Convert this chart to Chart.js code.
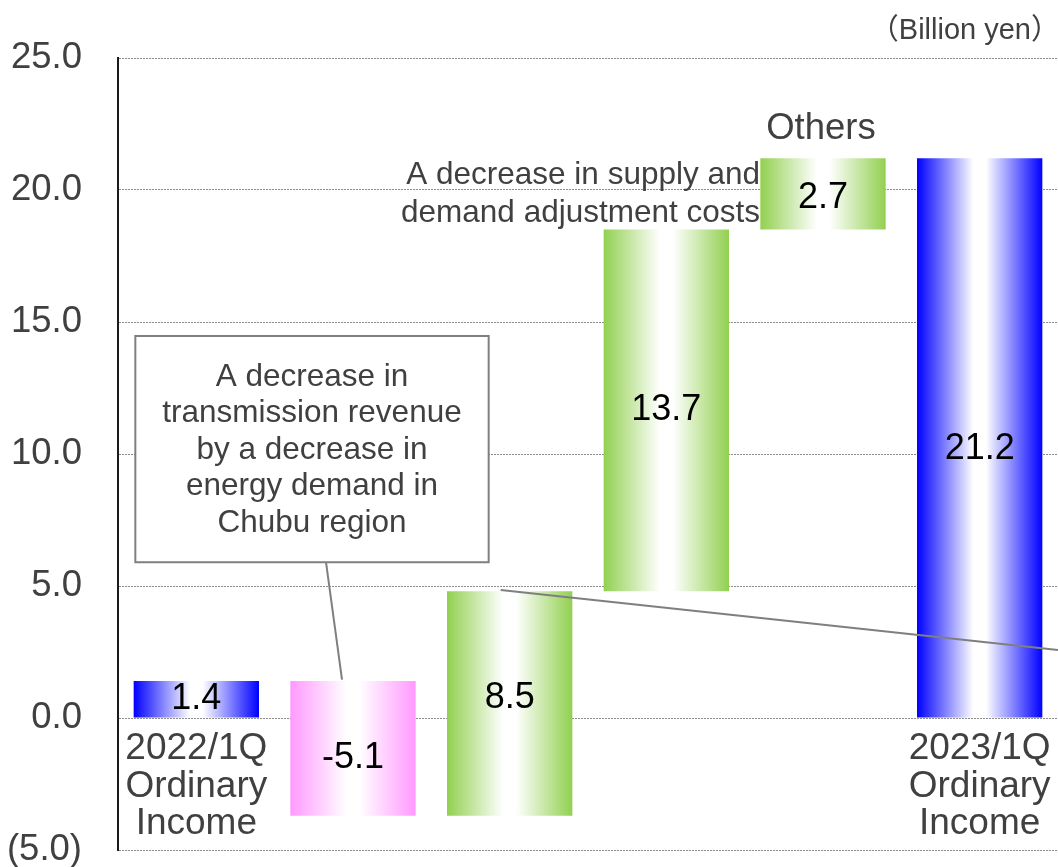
<!DOCTYPE html>
<html>
<head>
<meta charset="utf-8">
<script src="https://cdn.jsdelivr.net/npm/chart.js@4/dist/chart.umd.min.js"></script>
<style>
  html, body { margin: 0; padding: 0; background: #fff; }
  #wrap { width: 1058px; height: 867px; position: relative; }
</style>
</head>
<body>
<div id="wrap"><canvas id="chart"></canvas></div>
<script>
const categories = [
  ["2022/1Q", "Ordinary", "Income"],
  [], [], [], [],
  ["2023/1Q", "Ordinary", "Income"],
];
const changes = [1.4, -5.1, 8.5, 13.7, 2.7, 21.2];
const isTotal = [true, false, false, false, false, true];
const barColours = ["#0000ff", "#ff99ff", "#92d050", "#92d050", "#92d050", "#0000ff"];
const yTicks = [-5, 0, 5, 10, 15, 20, 25];

const FONT = '"Liberation Sans", Arial, sans-serif';
const TEXT = "#404040";

// waterfall: floating bars [start, end]
const floating = [];
let running = 0;
changes.forEach((v, i) => {
  if (isTotal[i]) {
    floating.push([0, v]);
    running = v;
  } else {
    floating.push([running, running + v]);
    running += v;
  }
});

// small nudges so the value text sits where the original put it
const labelNudge = [0, 10, -5, 0, 4, 11];

function barGradient(ctx) {
  const chart = ctx.chart;
  const i = ctx.dataIndex;
  const colour = barColours[i];
  if (!chart.chartArea || !chart.scales.x) return colour;
  const x = chart.scales.x;
  const cx = x.getPixelForValue(i);
  const w = (x.width / categories.length) * 0.8;
  const g = chart.ctx.createLinearGradient(cx - w / 2, 0, cx + w / 2, 0);
  g.addColorStop(0, colour);
  g.addColorStop(0.45, "#ffffff");
  g.addColorStop(0.55, "#ffffff");
  g.addColorStop(1, colour);
  return g;
}

const overlay = {
  id: "overlay",
  afterDatasetsDraw(chart) {
    const { ctx, scales, chartArea } = chart;
    const px = (i) => scales.x.getPixelForValue(i);
    const py = (v) => scales.y.getPixelForValue(v);
    ctx.save();
    ctx.textAlign = "center";
    ctx.textBaseline = "middle";

    // value labels
    ctx.fillStyle = "#000";
    ctx.font = "36px " + FONT;
    floating.forEach((r, i) => {
      ctx.fillText(changes[i].toFixed(1), px(i), py((r[0] + r[1]) / 2) + labelNudge[i]);
    });

    // category labels under zero line
    ctx.fillStyle = TEXT;
    ctx.font = "37px " + FONT;
    categories.forEach((lines, i) => {
      lines.forEach((t, k) => {
        ctx.fillText(t, px(i), py(0) + 31 + k * 37.5);
      });
    });

    // connector lines
    ctx.strokeStyle = "#7f7f7f";
    ctx.lineWidth = 2;
    ctx.beginPath();
    ctx.moveTo(px(1) - 27, py(5.9));
    ctx.lineTo(px(1) - 11, py(1.45));
    ctx.stroke();
    ctx.beginPath();
    ctx.moveTo(px(2) - 9, py(4.85));
    ctx.lineTo(chartArea.right, py(2.58));
    ctx.stroke();

    // callout box
    const bx0 = px(0) - 61, bx1 = px(2) - 21;
    const by0 = py(14.47), by1 = py(5.9);
    ctx.fillStyle = "#fff";
    ctx.fillRect(bx0, by0, bx1 - bx0, by1 - by0);
    ctx.strokeRect(bx0, by0, bx1 - bx0, by1 - by0);
    ctx.fillStyle = TEXT;
    ctx.font = "31.5px " + FONT;
    const boxText = ["A decrease in", "transmission revenue", "by a decrease in",
      "energy demand in", "Chubu region"];
    boxText.forEach((t, k) => {
      ctx.fillText(t, (bx0 + bx1) / 2, by0 + 41 + k * 36.5);
    });

    // other annotations
    ctx.textAlign = "right";
    ctx.fillText("A decrease in supply and", px(4) - 63, py(20.55));
    ctx.fillText("demand adjustment costs", px(4) - 63, py(19.1));

    ctx.textAlign = "center";
    ctx.font = "36.5px " + FONT;
    ctx.fillText("Others", px(4) - 2, py(22.3));

    ctx.textAlign = "right";
    ctx.font = '29px "Liberation Sans", "Noto Sans CJK JP", sans-serif';
    ctx.fillText("\uff08Billion yen\uff09", 1060, 31);
    ctx.restore();
  },
};

new Chart(document.getElementById("chart"), {
  type: "bar",
  data: {
    labels: categories,
    datasets: [
      {
        data: floating,
        backgroundColor: barGradient,
        borderWidth: 0,
        barPercentage: 0.8,
        categoryPercentage: 1.0,
      },
    ],
  },
  options: {
    responsive: true,
    maintainAspectRatio: false,
    animation: false,
    layout: {
      padding: { top: 58, bottom: 17, left: 0, right: 0 },
    },
    plugins: {
      legend: { display: false },
      tooltip: { enabled: false },
    },
    scales: {
      x: {
        display: false,
      },
      y: {
        min: -5,
        max: 25,
        afterFit: (scale) => {
          scale.width = 118;
          scale.paddingTop = 0;
          scale.paddingBottom = 0;
        },
        afterBuildTicks: (scale) => { scale.ticks = yTicks.map((v) => ({ value: v })); },
        ticks: {
          padding: 36,
          color: TEXT,
          font: { family: FONT, size: 36.5 },
          callback: (v) => (v < 0 ? "(" + Math.abs(v).toFixed(1) + ")" : v.toFixed(1)),
        },
        grid: {
          color: "#8c8c8c",
          lineWidth: 1,
          drawTicks: false,
        },
        border: {
          display: true,
          color: "#1a1a1a",
          width: 2,
          dash: [2, 1],
        },
      },
    },
  },
  plugins: [overlay],
});
</script>
</body>
</html>
